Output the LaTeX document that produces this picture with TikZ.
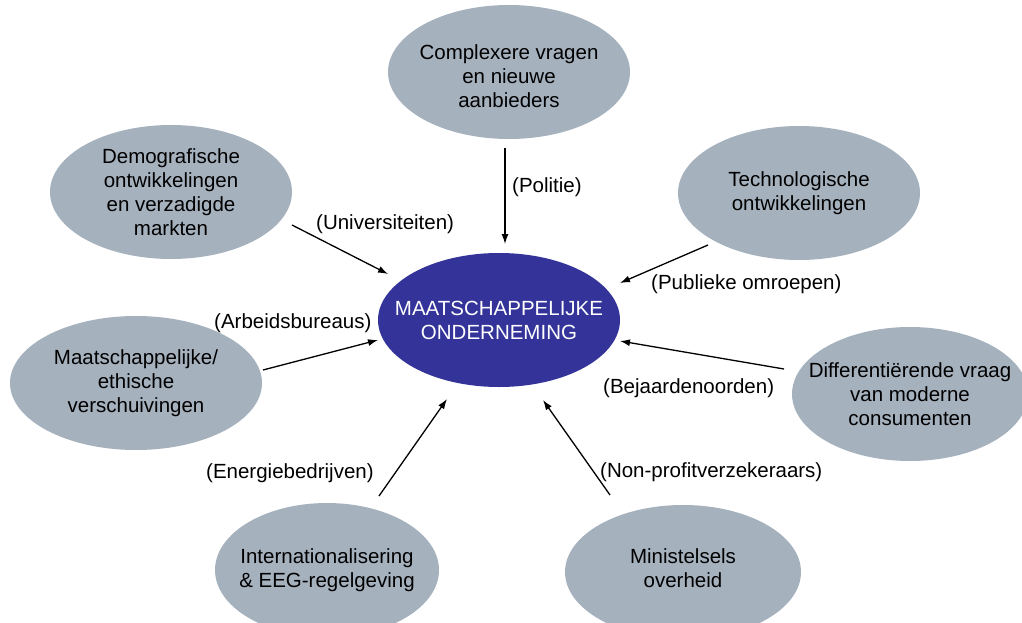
\documentclass[tikz,border=0pt]{standalone}
\usepackage{fontspec}
\setmainfont{Liberation Sans}
\usetikzlibrary{shapes.geometric,arrows.meta}
\definecolor{grayblue}{RGB}{166,177,190}
\definecolor{navy}{RGB}{51,51,153}
\tikzset{
  txt/.style={align=center, inner sep=0pt, font=\fontsize{20.5}{24}\selectfont},
  factor/.style={ellipse, fill=grayblue, minimum width=242pt, minimum height=134pt, inner sep=0pt},
  core/.style={ellipse, fill=navy, minimum width=242pt, minimum height=134pt, inner sep=0pt},
  lbl/.style={anchor=west, inner sep=0pt, font=\fontsize{20.5}{24}\selectfont},
  arr/.style={-{Latex[length=10pt,width=7pt]}, line width=1.3pt}
}
\begin{document}
\begin{tikzpicture}[x=1pt,y=-1pt]
\useasboundingbox (0,0) rectangle (1022,623);
\begin{scope}
\clip (0,0) rectangle (1022,623);
\node[factor, label={[txt,yshift=-4pt]center:Complexere vragen\\en nieuwe\\aanbieders}] (top) at (509,72) {};
\node[factor, label={[txt]center:Demografische\\ontwikkelingen\\en verzadigde\\markten}] (demo) at (171,192) {};
\node[factor, label={[txt]center:Technologische\\ontwikkelingen}] (tech) at (799,193) {};
\node[factor, minimum width=252pt, label={[txt]center:Maatschappelijke/\\ethische\\verschuivingen}] (ethic) at (136,383) {};
\node[factor, minimum width=236pt, label={[txt]center:Differentiërende vraag\\van moderne\\consumenten}] (diff) at (910,394) {};
\node[factor, minimum width=224pt, label={[txt]center:Internationalisering\\\& EEG-regelgeving}] (intl) at (327,570) {};
\node[factor, minimum width=236pt, label={[txt,yshift=4pt]center:Ministelsels\\overheid}] (mini) at (683,572) {};
\node[core, label={[txt, text=white]center:MAATSCHAPPELIJKE\\ONDERNEMING}] (mo) at (499,320) {};
\end{scope}

\coordinate (a1s) at (505,148); \coordinate (a1e) at (505,244);
\coordinate (a2s) at (292,225); \coordinate (a2e) at (388,274);
\coordinate (a3s) at (708,245); \coordinate (a3e) at (620,283);
\coordinate (a4s) at (263,370); \coordinate (a4e) at (378,340);
\coordinate (a5s) at (784,369); \coordinate (a5e) at (620,341);
\coordinate (a6s) at (379,496); \coordinate (a6e) at (447,399);
\coordinate (a7s) at (610,495); \coordinate (a7e) at (543,400);

\draw[arr] (a1s) -- (a1e);
\draw[arr] (a2s) -- (a2e);
\draw[arr] (a3s) -- (a3e);
\draw[arr] (a4s) -- (a4e);
\draw[arr] (a5s) -- (a5e);
\draw[arr] (a6s) -- (a6e);
\draw[arr] (a7s) -- (a7e);

\node[lbl] (l1) at (512,187) {(Politie)};
\node[lbl] (l2) at (316,224) {(Universiteiten)};
\node[lbl] (l3) at (651,284) {(Publieke omroepen)};
\node[lbl] (l4) at (214,323) {(Arbeidsbureaus)};
\node[lbl] (l5) at (603,388) {(Bejaardenoorden)};
\node[lbl] (l6) at (206,473) {(Energiebedrijven)};
\node[lbl] (l7) at (600,472) {(Non-profitverzekeraars)};
\end{tikzpicture}
\end{document}
